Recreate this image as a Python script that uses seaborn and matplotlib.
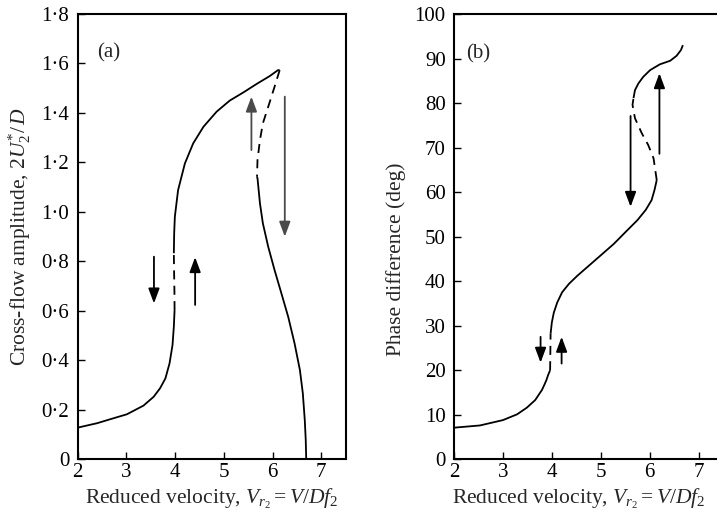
import numpy as np
import pandas as pd
import matplotlib
matplotlib.use("Agg")
import matplotlib.pyplot as plt
import seaborn as sns

# ---------------- data: panel (a) amplitude ----------------
a_low_x = [2.0, 2.40, 2.668, 3.01, 3.35, 3.56, 3.69, 3.80, 3.885, 3.946, 3.973, 3.988]
a_low_y = [0.128, 0.146, 0.162, 0.182, 0.217, 0.253, 0.287, 0.327, 0.388, 0.462, 0.536, 0.603]
a_jump_x = [3.988, 3.985, 3.978, 3.973]
a_jump_y = [0.603, 0.68, 0.76, 0.833]
a_up_x = [3.973, 3.98, 3.994, 4.06, 4.20, 4.37, 4.58, 4.85, 5.12, 5.40, 5.67, 5.94, 6.11, 6.145]
a_up_y = [0.833, 0.914, 0.981, 1.088, 1.196, 1.277, 1.344, 1.405, 1.450, 1.483, 1.517, 1.549, 1.573, 1.573]
a_uns_x = [6.145, 6.04, 5.91, 5.80, 5.74, 5.69, 5.68]
a_uns_y = [1.573, 1.506, 1.425, 1.358, 1.29, 1.21, 1.142]
a_dn_x = [5.68, 5.69, 5.74, 5.80, 5.91, 6.04, 6.18, 6.32, 6.45, 6.56, 6.62, 6.66, 6.68, 6.69]
a_dn_y = [1.142, 1.136, 1.035, 0.954, 0.859, 0.765, 0.671, 0.576, 0.469, 0.361, 0.267, 0.159, 0.078, 0.0]
# arrows (tail -> tip)
a_arrow_x = [3.565, 4.41, 5.565, 6.25]
a_arrow_y0 = [0.819, 0.624, 1.25, 1.466]
a_arrow_y1 = [0.630, 0.817, 1.466, 0.90]

# ---------------- data: panel (b) phase ----------------
b_low_x = [2.0, 2.53, 3.0, 3.29, 3.49, 3.66, 3.80, 3.85, 3.89, 3.92, 3.95, 3.965]
b_low_y = [7.1, 7.6, 8.8, 10.1, 11.6, 13.3, 15.6, 16.8, 17.8, 18.8, 19.6, 20.0]
b_jump_x = [3.965, 3.97, 3.975]
b_jump_y = [20.0, 24.0, 28.2]
b_mid_x = [3.975, 4.0, 4.04, 4.11, 4.21, 4.35, 4.52, 4.76, 5.0, 5.27, 5.54, 5.75, 5.92, 6.04, 6.10, 6.145]
b_mid_y = [28.2, 30.7, 32.9, 35.2, 37.5, 39.4, 41.2, 43.5, 45.8, 48.4, 51.4, 53.7, 56.0, 58.2, 60.5, 62.7]
b_uns_x = [6.145, 6.08, 5.97, 5.84, 5.70, 5.65, 5.67]
b_uns_y = [62.7, 67.6, 70.6, 73.2, 76.6, 79.6, 81.1]
b_top_x = [5.67, 5.70, 5.77, 5.87, 6.01, 6.21, 6.42, 6.55, 6.64, 6.68]
b_top_y = [81.1, 82.9, 84.4, 85.9, 87.4, 88.7, 89.5, 90.6, 91.9, 93.0]
b_arrow_x = [3.77, 4.20, 5.61, 6.20]
b_arrow_y0 = [27.5, 21.5, 77.1, 68.6]
b_arrow_y1 = [21.7, 27.5, 56.7, 86.7]

x_ticks = [2, 3, 4, 5, 6, 7]
a_yticks = [0, 0.2, 0.4, 0.6, 0.8, 1.0, 1.2, 1.4, 1.6, 1.8]
a_yticklabels = ["0", "0·2", "0·4", "0·6", "0·8", "1·0", "1·2", "1·4", "1·6", "1·8"]
b_yticks = [0, 10, 20, 30, 40, 50, 60, 70, 80, 90, 100]

# ---------------- style ----------------
sns.set_style("ticks")
plt.rcParams["font.family"] = ["Liberation Serif", "DejaVu Serif"]
plt.rcParams["mathtext.fontset"] = "custom"
plt.rcParams["mathtext.rm"] = "Liberation Serif"
plt.rcParams["mathtext.it"] = "Liberation Serif:italic"
plt.rcParams["mathtext.bf"] = "Liberation Serif:bold"

fig = plt.figure(figsize=(7.17, 5.27), dpi=100)
W, H = 717.0, 527.0
top_px, bot_px = 14.0, 459.3
axA = fig.add_axes([77.7 / W, (H - bot_px) / H, 268.0 / W, (bot_px - top_px) / H])
axB = fig.add_axes([454.0 / W, (H - bot_px) / H, 269.0 / W, (bot_px - top_px) / H])

solid = dict(color="black", linewidth=1.3, solid_joinstyle="round", solid_capstyle="butt")
dashed = dict(color="black", linewidth=1.3, linestyle=(0, (5, 3.5)))


def seg(ax, xs, ys, style):
    df = pd.DataFrame({"x": xs, "y": ys})
    sns.lineplot(data=df, x="x", y="y", ax=ax, sort=False, estimator=None, **style)


seg(axA, a_low_x, a_low_y, solid)
seg(axA, a_jump_x, a_jump_y, dashed)
seg(axA, a_up_x, a_up_y, solid)
seg(axA, a_uns_x, a_uns_y, dashed)
seg(axA, a_dn_x, a_dn_y, solid)

seg(axB, b_low_x, b_low_y, solid)
seg(axB, b_jump_x, b_jump_y, dashed)
seg(axB, b_mid_x, b_mid_y, solid)
seg(axB, b_uns_x, b_uns_y, dashed)
seg(axB, b_top_x, b_top_y, solid)

arrow_colors_a = ["black", "black", "#4a4a4a", "#4a4a4a"]
for ax, xs, y0s, y1s, cols in [
    (axA, a_arrow_x, a_arrow_y0, a_arrow_y1, arrow_colors_a),
    (axB, b_arrow_x, b_arrow_y0, b_arrow_y1, ["black"] * 4),
]:
    for x, y0, y1, c in zip(xs, y0s, y1s, cols):
        ax.annotate("", xy=(x, y1), xytext=(x, y0),
                    arrowprops=dict(arrowstyle="-|>,head_length=0.75,head_width=0.28",
                                    color=c, lw=1.3, mutation_scale=12,
                                    shrinkA=0, shrinkB=0))

for ax in (axA, axB):
    ax.set_xlim(2, 7.5)
    ax.set_xticks(x_ticks)
    ax.set_xticklabels([str(t) for t in x_ticks])
    ax.tick_params(axis="both", direction="in", length=5, width=1.0,
                   labelsize=15, colors="black")
    ax.tick_params(axis="x", pad=3)
    ax.tick_params(axis="y", pad=6)
    for s in ax.spines.values():
        s.set_visible(True)
        s.set_linewidth(1.5)
        s.set_color("black")
    ax.set_xlabel(r"Reduced velocity, $V_{r_2} = V/Df_2$", fontsize=15.5, labelpad=3)

axA.set_ylim(0, 1.8)
axA.set_yticks(a_yticks)
axA.set_yticklabels(a_yticklabels)
axA.set_ylabel(r"Cross-flow amplitude, $2U_2^{*}/\,D$", fontsize=15.5, labelpad=6)
axA.text(2.64, 1.642, "(a)", fontsize=15, ha="center", va="center")

axB.set_ylim(0, 100)
axB.set_yticks(b_yticks)
axB.set_yticklabels([str(t) for t in b_yticks])
axB.set_ylabel("Phase difference (deg)", fontsize=15.5, labelpad=6)
axB.yaxis.label.set_y(0.45)
axB.xaxis.label.set_x(0.465)
axB.text(2.50, 91.1, "(b)", fontsize=15, ha="center", va="center")

fig.savefig("out.png", dpi=100)
